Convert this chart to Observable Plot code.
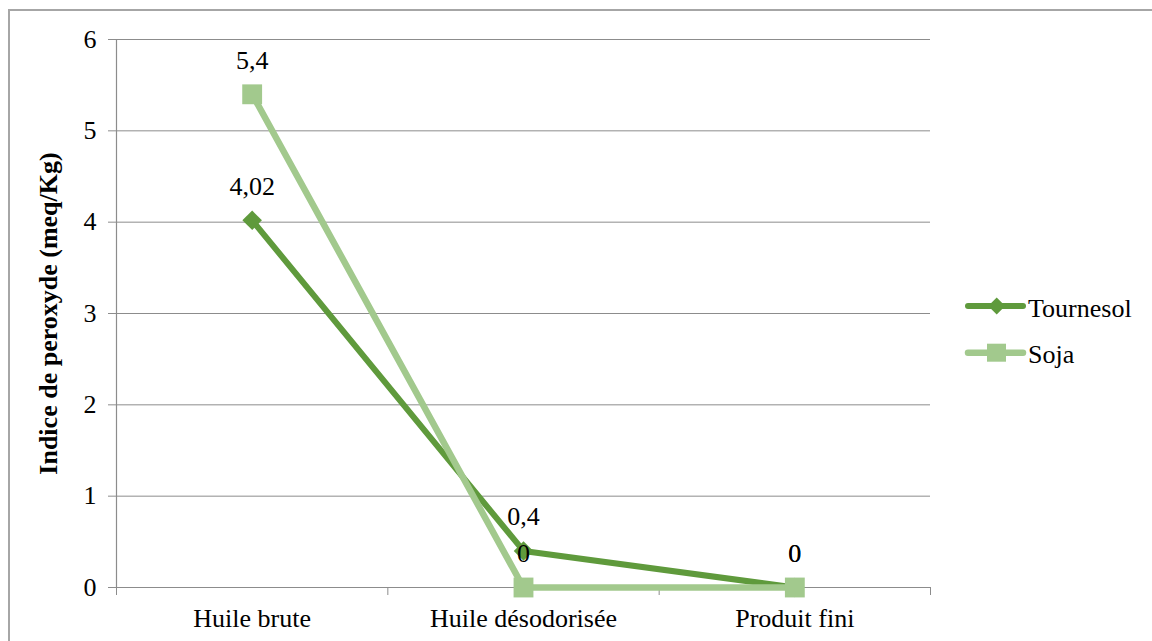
<!DOCTYPE html>
<html>
<head>
<meta charset="utf-8">
<script src="https://cdn.jsdelivr.net/npm/d3@7"></script>
<script src="https://cdn.jsdelivr.net/npm/@observablehq/plot@0.6"></script>
<style>
  html, body { margin: 0; padding: 0; background: #fff; overflow: hidden; }
  #wrap { position: relative; width: 1152px; height: 641px; font-family: 'Liberation Serif', serif; }
  #chart svg text { font-family: 'Liberation Serif', serif !important; }
  #frame { position: absolute; left: 8px; top: 9px; width: 1160px; height: 660px; border: 2px solid #a6a6a6; box-sizing: border-box; pointer-events: none; }
  #legend { position: absolute; left: 960px; top: 280px; }
  #legend text { font-family: 'Liberation Serif', serif; font-size: 26px; fill: #000; }
</style>
</head>
<body>
<div id="wrap">
  <div id="chart"></div>
  <div id="frame"></div>
  <svg id="legend" width="192" height="110"></svg>
</div>
<script>
const categories = ["Huile brute", "Huile désodorisée", "Produit fini"];
const seriesNames = ["Tournesol", "Soja"];
const tournesol = [4.02, 0.4, 0];
const soja = [5.4, 0, 0];
const yTicks = [0, 1, 2, 3, 4, 5, 6];
const colors = {Tournesol: "#5f9a3c", Soja: "#a2c98d"};
const FONT = "Liberation Serif";
const FS = 26;

const fmt = v => String(v).replace(".", ",");
const rows = [];
categories.forEach((c, i) => rows.push({series: "Tournesol", cat: c, i: i + 0.5, v: tournesol[i]}));
categories.forEach((c, i) => rows.push({series: "Soja", cat: c, i: i + 0.5, v: soja[i]}));
const tRows = rows.filter(d => d.series === "Tournesol");
const sRows = rows.filter(d => d.series === "Soja");

const chart = Plot.plot({
  width: 1152,
  height: 641,
  marginLeft: 116,
  marginRight: 222,
  marginTop: 39,
  marginBottom: 54,
  style: {fontFamily: FONT, fontSize: FS + "px", color: "#000", background: "transparent"},
  x: {type: "linear", domain: [0, categories.length]},
  y: {domain: [0, 6]},
  marks: [
    Plot.ruleY(yTicks, {stroke: "#8c8c8c", strokeWidth: 1, strokeOpacity: 1}),
    Plot.ruleX([0], {stroke: "#8c8c8c", strokeWidth: 1.2}),
    Plot.axisY({ticks: yTicks, tickSize: 8, tickPadding: 12, stroke: "#8c8c8c", tickFormat: d => fmt(d), fontSize: FS, fontFamily: FONT, label: null}),
    Plot.axisX({ticks: d3.range(categories.length + 1), tickSize: 8, stroke: "#8c8c8c", tickFormat: () => "", label: null}),
    Plot.axisX({ticks: categories.map((c, i) => i + 0.5), tickSize: 0, tickPadding: 21, tickFormat: d => categories[Math.floor(d)], fontSize: FS, fontFamily: FONT, label: null}),
    Plot.line(tRows, {x: "i", y: "v", stroke: colors.Tournesol, strokeWidth: 6, strokeLinejoin: "round"}),
    Plot.dot(tRows, {x: "i", y: "v", symbol: "diamond2", r: 8.8, fill: colors.Tournesol, stroke: "none"}),
    Plot.line(sRows, {x: "i", y: "v", stroke: colors.Soja, strokeWidth: 6.5, strokeLinejoin: "round"}),
    Plot.dot(sRows, {x: "i", y: "v", symbol: "square", r: 11.2, fill: colors.Soja, stroke: "none"}),
    Plot.text(rows, {x: "i", y: "v", text: d => fmt(d.v), dy: -34, fontSize: FS, fontFamily: FONT, fill: "#000"}),
    Plot.text(["Indice de peroxyde (meq/Kg)"], {frameAnchor: "left", textAnchor: "middle", dx: -68, rotate: -90, fontSize: FS, fontFamily: FONT, fontWeight: "bold", fill: "#000"})
  ]
});
document.getElementById("chart").appendChild(chart);

// Legend
const lg = d3.select("#legend");
seriesNames.forEach((name, k) => {
  const cy = 26 + k * 46.7;
  const g = lg.append("g");
  g.append("line").attr("x1", 8).attr("x2", 63).attr("y1", cy).attr("y2", cy)
    .attr("stroke", colors[name]).attr("stroke-width", name === "Tournesol" ? 6 : 6.5).attr("stroke-linecap", "round");
  if (name === "Tournesol") {
    g.append("polygon").attr("points", `36.7,${cy - 8.5} 45.2,${cy} 36.7,${cy + 8.5} 28.2,${cy}`).attr("fill", colors[name]);
  } else {
    g.append("rect").attr("x", 27).attr("y", cy - 9).attr("width", 19).attr("height", 18).attr("fill", colors[name]);
  }
  g.append("text").attr("x", 68).attr("y", cy + 10.5).text(name);
});
</script>
</body>
</html>
